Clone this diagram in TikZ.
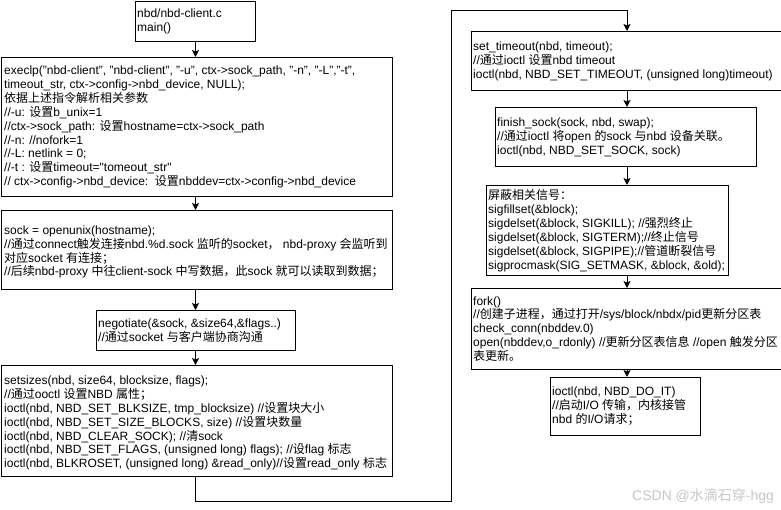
\documentclass[tikz,border=0pt]{standalone}
\usepackage{fontspec}
\setmainfont{Liberation Sans}
\newfontfamily\latfont{Liberation Sans}
\newfontfamily\cjkfont{Noto Sans CJK SC}
\usetikzlibrary{arrows.meta}
\XeTeXinterchartokenstate=1
\newXeTeXintercharclass\CJKcls
\newcount\cjkc
\cjkc="3000 \loop \XeTeXcharclass\cjkc=\CJKcls \ifnum\cjkc<"303F \advance\cjkc 1 \repeat
\cjkc="4E00 \loop \XeTeXcharclass\cjkc=\CJKcls \ifnum\cjkc<"9FFF \advance\cjkc 1 \repeat
\cjkc="FF00 \loop \XeTeXcharclass\cjkc=\CJKcls \ifnum\cjkc<"FFEF \advance\cjkc 1 \repeat
\XeTeXinterchartoks 0 \CJKcls = {\cjkfont}
\XeTeXinterchartoks 4095 \CJKcls = {\cjkfont}
\XeTeXinterchartoks \CJKcls 0 = {\latfont}
\XeTeXinterchartoks \CJKcls 4095 = {\latfont}
\tikzset{
  box/.style={draw=black, line width=1pt, fill=white, inner sep=0pt, anchor=north west},
  txt/.style={inner sep=0pt, anchor=west, align=left, font=\fontsize{12}{13.9}\selectfont},
  arr/.style={draw=black, line width=1pt, -{Stealth[length=7pt,width=7pt,inset=1.5pt]}},
  wm/.style={inner sep=0pt, anchor=west, text=black!22, font=\fontsize{14}{16}\selectfont}
}
\begin{document}
\begin{tikzpicture}[x=1pt,y=-1pt]
\useasboundingbox (0,0) rectangle (781,509);
\fill[white] (0,0) rectangle (781,509);
\coordinate (colL) at (195.5,0);
\coordinate (colR) at (627,0);
% left column
\node[box, minimum width=120, minimum height=40] (b1) at (135,1) {};
\node[txt] (t1) at ([xshift=2]b1.west) {nbd/nbd-client.c\\main()};
\node[box, minimum width=391, minimum height=139] (b2) at (1,57) {};
\node[txt] (t2) at ([xshift=3]b2.west) {execlp("nbd-client", "nbd-client", "-u", ctx->sock\_path, "-n", "-L","-t",\\
timeout\_str, ctx->config->nbd\_device, NULL);\\
依据上述指令解析相关参数\\
//-u: 设置b\_unix=1\\
//ctx->sock\_path: 设置hostname=ctx->sock\_path\\
//-n: //nofork=1\\
//-L: netlink = 0;\\
//-t : 设置timeout="tomeout\_str"\\
// ctx->config->nbd\_device:\ \ 设置nbddev=ctx->config->nbd\_device};
\node[box, minimum width=391, minimum height=79] (b3) at (1,210) {};
\node[txt] (t3) at ([xshift=3,yshift=-2]b3.west) {sock = openunix(hostname);\\
//通过connect触发连接nbd.\%d.sock 监听的socket，\ nbd-proxy 会监听到\\
对应socket 有连接；\\
//后续nbd-proxy 中往client-sock 中写数据，此sock 就可以读取到数据；};
\node[box, minimum width=199, minimum height=40] (b4) at (96,310) {};
\node[txt] (t4) at ([xshift=2]b4.west) {negotiate(\&sock, \&size64,\&flags..)\\
//通过socket 与客户端协商沟通};
\node[box, minimum width=391, minimum height=111] (b5) at (1,365) {};
\node[txt] (t5) at ([xshift=3,yshift=-2]b5.west) {setsizes(nbd, size64, blocksize, flags);\\
//通过ooctl 设置NBD 属性；\\
ioctl(nbd, NBD\_SET\_BLKSIZE, tmp\_blocksize) //设置块大小\\
ioctl(nbd, NBD\_SET\_SIZE\_BLOCKS, size) //设置块数量\\
ioctl(nbd, NBD\_CLEAR\_SOCK); //清sock\\
ioctl(nbd, NBD\_SET\_FLAGS, (unsigned long) flags); //设flag 标志\\
ioctl(nbd, BLKROSET, (unsigned long) \&read\_only)//设置read\_only 标志};
% right column
\node[box, minimum width=310, minimum height=59] (b6) at (471,31) {};
\node[txt] (t6) at ([xshift=2]b6.west) {set\_timeout(nbd, timeout);\\
//通过ioctl 设置nbd timeout\\
ioctl(nbd, NBD\_SET\_TIMEOUT, (unsigned long)timeout)};
\node[box, minimum width=261, minimum height=59] (b7) at (495,107) {};
\node[txt] (t7) at ([xshift=2]b7.west) {finish\_sock(sock, nbd, swap);\\
//通过ioctl 将open 的sock 与nbd 设备关联。\\
ioctl(nbd, NBD\_SET\_SOCK, sock)};
\node[box, minimum width=242, minimum height=90] (b8) at (486,185) {};
\node[txt] (t8) at ([xshift=2]b8.west) {屏蔽相关信号：\\
sigfillset(\&block);\\
sigdelset(\&block, SIGKILL); //强烈终止\\
sigdelset(\&block, SIGTERM);//终止信号\\
sigdelset(\&block, SIGPIPE);//管道断裂信号\\
sigprocmask(SIG\_SETMASK, \&block, \&old);};
\node[box, minimum width=310, minimum height=81] (b9) at (471,288) {};
\node[txt] (t9) at ([xshift=2]b9.west) {fork()\\
//创建子进程，通过打开/sys/block/nbdx/pid更新分区表\\
check\_conn(nbddev.0)\\
open(nbddev,o\_rdonly) //更新分区表信息 //open 触发分区\\
表更新。};
\node[box, minimum width=150, minimum height=58] (b10) at (550,377) {};
\node[txt] (t10) at ([xshift=2]b10.west) {ioctl(nbd, NBD\_DO\_IT)\\
//启动I/O 传输，内核接管\\
nbd 的I/O请求；};
% connectors
\draw[arr] (b1.south -| colL) -- (b2.north -| colL);
\draw[arr] (b2.south -| colL) -- (b3.north -| colL);
\draw[arr] (b3.south -| colL) -- (b4.north -| colL);
\draw[arr] (b4.south -| colL) -- (b5.north -| colL);
\coordinate (j1) at (195.5,501);
\coordinate (j2) at (451,501);
\coordinate (j3) at (451,10);
\coordinate (j4) at (627,10);
\draw[arr] (b5.south -| colL) -- (j1) -- (j2) -- (j3) -- (j4) -- (b6.north -| colR);
\draw[arr] (b6.south -| colR) -- (b7.north -| colR);
\draw[arr] (b7.south -| colR) -- (b8.north -| colR);
\draw[arr] (b8.south -| colR) -- (b9.north -| colR);
\draw[arr] (b9.south -| colR) -- (b10.north -| colR);
% watermark
\node[wm] (wmk) at (632,496) {CSDN @水滴石穿-hgg};
\end{tikzpicture}
\end{document}
